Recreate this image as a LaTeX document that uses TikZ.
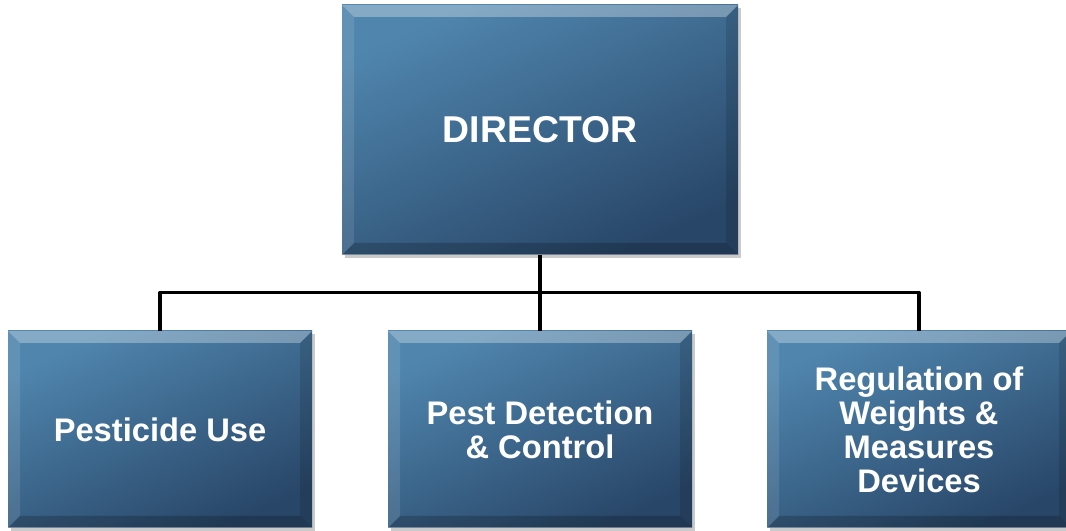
\documentclass[tikz,border=0pt]{standalone}
\usepackage{fontspec}
\setmainfont{Liberation Sans}
\usetikzlibrary{calc,shadows}
\definecolor{boxlight}{RGB}{80,134,174}
\definecolor{boxdark}{RGB}{40,70,104}
\tikzset{
	orgbox/.style={draw=none, text=white, align=center, inner sep=0pt,
		top color=boxlight, bottom color=boxdark, shading angle=25,
		drop shadow={shadow xshift=2.5pt, shadow yshift=-2.5pt, opacity=.35, fill=black!60},
		path picture={
			\coordinate (nw) at (path picture bounding box.north west);
			\coordinate (ne) at (path picture bounding box.north east);
			\coordinate (sw) at (path picture bounding box.south west);
			\coordinate (se) at (path picture bounding box.south east);
			\fill[white,opacity=.30] (nw)--(ne)--($(ne)+(-9pt,-9pt)$)--($(nw)+(9pt,-9pt)$)--cycle;
			\fill[white,opacity=.10] (nw)--($(nw)+(9pt,-9pt)$)--($(sw)+(9pt,9pt)$)--(sw)--cycle;
			\fill[black,opacity=.12] (ne)--($(ne)+(-9pt,-9pt)$)--($(se)+(-9pt,9pt)$)--(se)--cycle;
			\fill[black,opacity=.20] (sw)--($(sw)+(9pt,9pt)$)--($(se)+(-9pt,9pt)$)--(se)--cycle;
			\draw[white,opacity=.35,line width=.8pt] (sw)--(se);
		}},
	topbox/.style={orgbox, minimum width=297pt, minimum height=187.5pt,
		font=\bfseries\fontsize{28}{34}\selectfont},
	subbox/.style={orgbox, minimum width=228pt, minimum height=147.75pt,
		font=\bfseries\fontsize{24.5}{25.5}\selectfont},
	conn/.style={line width=2.3pt, black}
}
\begin{document}
\begin{tikzpicture}[x=0.75pt,y=0.75pt, line join=round]
	% --- Khung hình ---
	\useasboundingbox (0,0) rectangle (1066,531);
	% --- Các hộp ---
	\node[topbox] (dir) at (540,401) {DIRECTOR};
	\node[subbox] (pu) at (160,101.5) {Pesticide Use};
	\node[subbox] (pd) at (540,101.5) {Pest Detection\\ \& Control};
	\node[subbox] (wm) at (919,101.5) {Regulation of\\ Weights \&\\ Measures\\ Devices};
	% --- Đường nối ---
	\draw[conn] (dir.south) -- ++(0,-37) coordinate (j);
	\draw[conn] (j) -| (pu.north);
	\draw[conn] (j) -| (wm.north);
	\draw[conn] (j) -- (pd.north);
\end{tikzpicture}
\end{document}
